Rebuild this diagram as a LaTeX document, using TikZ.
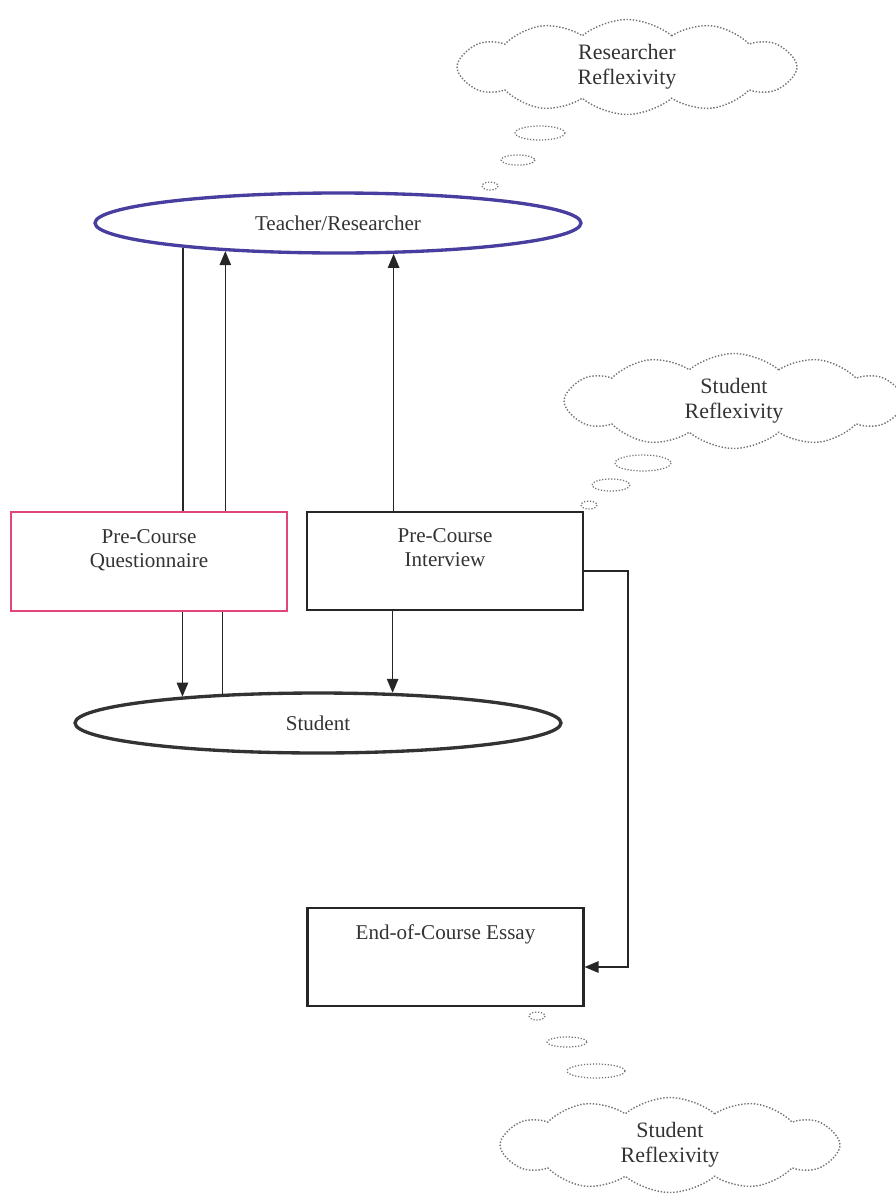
\documentclass[tikz,border=0pt]{standalone}
\usepackage{fontspec}
\setmainfont{Liberation Serif}
\usetikzlibrary{shapes.geometric, shapes.symbols, arrows.meta}

\definecolor{researcherblue}{RGB}{72,62,160}
\definecolor{questpink}{RGB}{226,70,120}

\tikzset{
    actor/.style={draw, ellipse, line width=1.9pt, minimum width=9.72cm, minimum height=1.2cm, text=black!80},
    instrument/.style={draw=black!85, line width=1.2pt, minimum width=5.52cm, minimum height=1.97cm},
    boxtext/.style={align=center, anchor=north, yshift=-2.3mm, text=black!80},
    thought/.style={cloud, cloud puffs=12, cloud puff arc=80, cloud ignores aspect, draw=black!55, densely dotted, line width=0.8pt, minimum width=6.8cm, minimum height=1.9cm, align=center, text=black!80, font=\fontsize{12.5}{14}\selectfont},
    bubble/.style={draw=black!55, densely dotted, line width=0.7pt},
    flow/.style={->, line width=0.9pt, draw=black!85}
}

\begin{document}
\begin{tikzpicture}[x=0.02cm, y=-0.02cm, >={Triangle[length=8pt, width=6.5pt]}, font=\fontsize{12}{14}\selectfont]
    \useasboundingbox (0,0) rectangle (896,1194);

    % Participants
    \node[actor, draw=researcherblue] (teacher) at (338,223) {Teacher/Researcher};
    \node[actor, draw=black!80] (student) at (318,723) {Student};

    % Data sources
    \node[instrument, draw=questpink, line width=1pt, label={[boxtext]north:Pre-Course\\Questionnaire}] (qbox) at (149,561.5) {};
    \node[instrument, label={[boxtext]north:Pre-Course\\Interview}] (ibox) at (445,561) {};
    \node[instrument, label={[boxtext]north:End-of-Course Essay}] (ebox) at (445.5,957) {};

    % Questionnaire out and back
    \draw[flow, -] (teacher.189.4) -- (teacher.189.4 |- qbox.north);
    \draw[flow] (student.169.75 |- qbox.south) -- (student.169.75);
    \draw[flow, -] (student.163.4) -- (student.163.4 |- qbox.south);
    \draw[flow] (teacher.194.5 |- qbox.north) -- (teacher.194.5);

    % Interview
    \draw[flow] (teacher.331.6 |- ibox.north) -- (teacher.331.6);
    \draw[flow] (student.22.5 |- ibox.south) -- (student.22.5);
    \draw[flow] ([yshift=-2mm]ibox.east) -- ++(44,0) |- ([yshift=-2mm]ebox.east);

    % Reflexivity clouds
    \node[thought] (rcloud) at (627,67) {Researcher\\Reflexivity};
    \node[thought] (scloud) at (734,401) {Student\\Reflexivity};
    \node[thought] (ecloud) at (670,1145) {Student\\Reflexivity};

    \foreach \x/\y/\rx/\ry in {540/133/25/7, 518/160/17/5, 490/186/8/4,
                               643/463/28/8, 611/485/19/6, 589/505/8/4,
                               537/1016/8/4, 567/1042/20/5, 596/1071/29/7}
        \draw[bubble] (\x,\y) ellipse [x radius=\rx, y radius=\ry];
\end{tikzpicture}
\end{document}
